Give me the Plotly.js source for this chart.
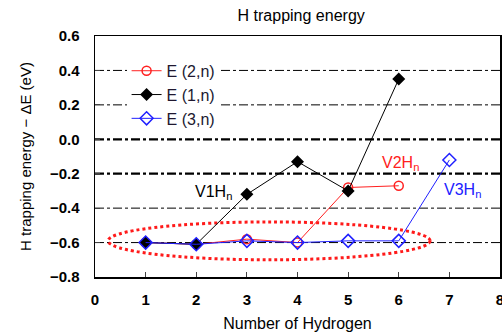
<!DOCTYPE html>
<html><head><meta charset="utf-8">
<script src="https://cdn.plot.ly/plotly-3.0.1.min.js"></script>
<style>html,body{margin:0;padding:0;background:#fff}#c{width:502px;height:334px}</style>
</head><body><div id="c"></div>
<script>
const n2 = [1, 2, 3, 4, 5, 6];
const e2 = [-0.60, -0.61, -0.58, -0.60, -0.28, -0.27];
const n1 = [1, 2, 3, 4, 5, 6];
const e1 = [-0.60, -0.61, -0.32, -0.13, -0.30, 0.35];
const n3 = [1, 2, 3, 4, 5, 6, 7];
const e3 = [-0.60, -0.61, -0.59, -0.60, -0.59, -0.59, -0.12];
const gridValues = [0.4, 0.2, 0.0, -0.2, -0.4, -0.6];
const thickGrid = [0.0, -0.2];
const xTicks = [0, 1, 2, 3, 4, 5, 6, 7, 8];
const yTicks = [0.6, 0.4, 0.2, 0.0, -0.2, -0.4, -0.6, -0.8];

const F = 'Liberation Sans, Arial, sans-serif';
const traces = [
  {x: n2, y: e2, name: 'E (2,n)', mode: 'lines+markers', line: {color: '#ff2020', width: 1},
   marker: {symbol: 'circle-open', size: 9, color: '#ff2020', line: {width: 1.5}}},
  {x: n1, y: e1, name: 'E (1,n)', mode: 'lines+markers', line: {color: '#000', width: 1},
   marker: {symbol: 'diamond', size: 10, color: '#000'}},
  {x: n3, y: e3, name: 'E (3,n)', mode: 'lines+markers', line: {color: '#2020ff', width: 1},
   marker: {symbol: 'diamond-open', size: 10, color: '#2020ff', line: {width: 1.5}}}
];
const shapes = gridValues.map(v => ({type: 'line', xref: 'paper', x0: 0, x1: 1, yref: 'y', y0: v, y1: v,
  layer: 'below', line: {color: '#000', width: thickGrid.includes(v) ? 2.2 : 1, dash: 'dashdot'}}));
shapes.push({type: 'circle', xref: 'x', yref: 'y', x0: 0.26, x1: 6.62, y0: -0.70, y1: -0.48,
  layer: 'below', line: {color: '#ff1a1a', width: 3, dash: 'dot'}});
const layout = {
  width: 502, height: 334,
  margin: {l: 95, r: 2, t: 36, b: 57, autoexpand: false},
  paper_bgcolor: '#fff', plot_bgcolor: '#fff',
  font: {family: F, size: 14, color: '#000'},
  title: {text: 'H trapping energy', font: {family: F, size: 16}, x: 0.6, xanchor: 'center', y: 0.955, yanchor: 'middle'},
  xaxis: {range: [0, 8], tickvals: xTicks, ticks: 'inside', ticklen: 5, showgrid: false, zeroline: false,
    showline: true, linecolor: '#000', linewidth: 1.5, mirror: true, automargin: false, ticklabeloverflow: 'allow',
    ticklabelstandoff: 8,
    tickfont: {family: F, size: 15, weight: 'bold'}, title: {text: 'Number of Hydrogen', font: {family: F, size: 16}, standoff: 11}},
  yaxis: {range: [-0.8, 0.6], tickvals: yTicks, tickformat: '.1f', ticks: 'inside', ticklen: 5, showgrid: false, zeroline: false,
    showline: true, linecolor: '#000', linewidth: 1.5, mirror: true, automargin: false, ticklabelstandoff: 11,
    tickfont: {family: F, size: 15, weight: 'bold'}, title: {text: 'H trapping energy − ΔE (eV)', font: {family: F, size: 15}, standoff: 14}},
  legend: {x: 0.078, y: 0.926, xanchor: 'left', yanchor: 'top', bgcolor: '#fff', borderwidth: 0,
    font: {family: F, size: 16, color: '#201830'}, tracegroupgap: 0, itemwidth: 30},
  shapes: shapes,
  annotations: [
    {x: 2.35, y: -0.31, xref: 'x', yref: 'y', text: 'V1H<sub>n</sub>', showarrow: false, font: {family: F, size: 16, color: '#000'}},
    {x: 6.03, y: -0.14, xref: 'x', yref: 'y', text: 'V2H<sub>n</sub>', showarrow: false, font: {family: F, size: 16, color: '#ff2020'}},
    {x: 7.25, y: -0.30, xref: 'x', yref: 'y', text: 'V3H<sub>n</sub>', showarrow: false, font: {family: F, size: 16, color: '#2020ff'}}
  ],
  showlegend: true
};
Plotly.newPlot('c', traces, layout, {displayModeBar: false, staticPlot: true});
</script></body></html>
